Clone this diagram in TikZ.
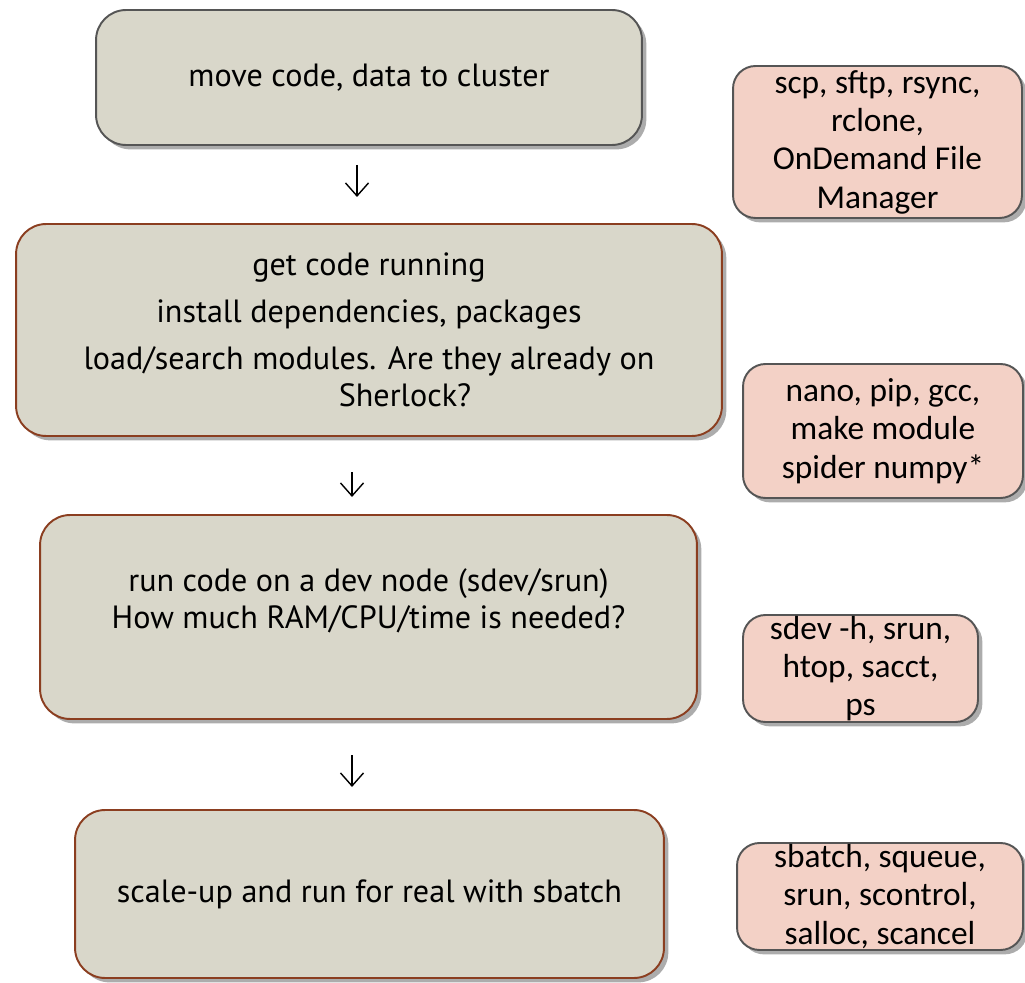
\documentclass[tikz,border=0pt]{standalone}
\usepackage{fontspec}
\setmainfont{PT Sans}
\newfontfamily\sidefont{Carlito}
\usepackage{xcolor}
\usetikzlibrary{arrows.meta}
\usetikzlibrary{shadows}

\definecolor{stepfill}{RGB}{217,215,202}
\definecolor{toolfill}{RGB}{243,209,198}
\definecolor{stepline}{RGB}{139,62,32}
\definecolor{toolline}{RGB}{85,85,85}

\tikzset{
  mainbox/.style={draw=stepline, line width=1.1pt, fill=stepfill, rounded corners=0.6cm,
    align=center, font=\fontsize{18.3}{21}\selectfont,
    drop shadow={shadow xshift=2.5pt, shadow yshift=-2.5pt, opacity=0.65}},
  toolbox/.style={draw=toolline, line width=1.1pt, fill=toolfill, rounded corners=0.45cm,
    align=center, inner sep=0pt, font=\sidefont\fontsize{19}{21.8}\selectfont,
    drop shadow={shadow xshift=2.5pt, shadow yshift=-2.5pt, opacity=0.65}},
  flow/.style={line width=0.8pt, -{Straight Barb[length=2.6mm,width=4.6mm]}}
}

\begin{document}
\begin{tikzpicture}[x=0.02cm, y=-0.02cm]
    \useasboundingbox (0,0) rectangle (1025,983);
    % steps on the left
    \node[mainbox, draw=toolline, minimum width=10.92cm, minimum height=2.7cm] (move) at (369,77.5) {move code, data to cluster};
    \node[mainbox, minimum width=14.12cm, minimum height=4.24cm] (build) at (369,330) {get code running\\[0.2cm]
      install dependencies, packages\\[0.2cm]
      load/search modules. Are they already on\\
      \hspace*{1.44cm}Sherlock?};
    \node[mainbox, minimum width=13.14cm, minimum height=4.08cm] (dev) at (368.5,617) {run code on a dev node (sdev/srun)\\
      How much RAM/CPU/time is needed?\\ \mbox{}};
    \node[mainbox, minimum width=11.78cm, minimum height=3.36cm] (batch) at (369.5,894) {scale-up and run for real with sbatch};
    % tools on the right
    \node[toolbox, minimum width=5.78cm, minimum height=3.04cm] (copy) at (877.5,142) {scp, sftp, rsync,\\ rclone,\\ OnDemand File\\ Manager};
    \node[toolbox, minimum width=5.6cm, minimum height=2.68cm] (inst) at (883,431) {nano, pip, gcc,\\ make module\\ spider numpy*};
    \node[toolbox, minimum width=4.7cm, minimum height=2.14cm] (mon) at (860.5,668.5) {sdev -h, srun,\\ htop, sacct,\\ ps};
    \node[toolbox, minimum width=5.72cm, minimum height=2.14cm] (sched) at (880,896.5) {sbatch, squeue,\\ srun, scontrol,\\ salloc, scancel};
    % arrows between steps
    \coordinate (a1) at (357,165); \coordinate (b1) at (357,197);
    \coordinate (a2) at (352,472); \coordinate (b2) at (352,497);
    \coordinate (a3) at (352,755); \coordinate (b3) at (352,787);
    \draw[flow] (a1) -- (b1);
    \draw[flow] (a2) -- (b2);
    \draw[flow] (a3) -- (b3);
\end{tikzpicture}
\end{document}
